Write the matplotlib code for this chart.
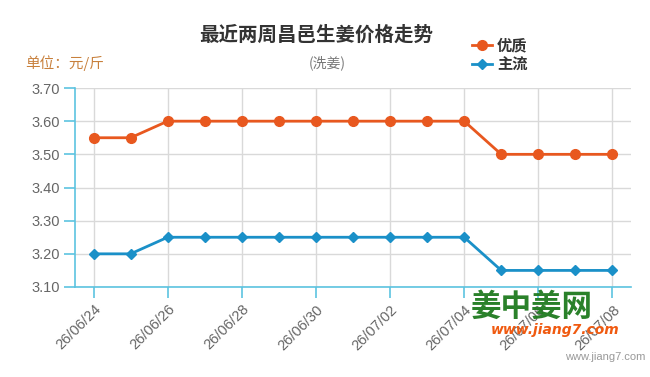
import matplotlib
matplotlib.use("Agg")
import matplotlib.pyplot as plt

plt.rcParams['font.family'] = ['Noto Sans CJK SC', 'DejaVu Sans']

dates = ["26/06/24", "26/06/25", "26/06/26", "26/06/27", "26/06/28", "26/06/29", "26/06/30",
         "26/07/01", "26/07/02", "26/07/03", "26/07/04", "26/07/05", "26/07/06", "26/07/07", "26/07/08"]
premium = [3.55, 3.55, 3.60, 3.60, 3.60, 3.60, 3.60, 3.60, 3.60, 3.60, 3.60, 3.50, 3.50, 3.50, 3.50]
mainstream = [3.20, 3.20, 3.25, 3.25, 3.25, 3.25, 3.25, 3.25, 3.25, 3.25, 3.25, 3.15, 3.15, 3.15, 3.15]
yticks = [3.10, 3.20, 3.30, 3.40, 3.50, 3.60, 3.70]

orange = "#e8581f"
blue = "#1a90c8"
axis_blue = "#5cc3e0"

fig = plt.figure(figsize=(6.5, 3.77), dpi=100)
ax = fig.add_axes([75/650, 1-287/377, (631-75)/650, (287-88)/377])

x = list(range(len(dates)))
l1, = ax.plot(x, premium, color=orange, lw=2, marker='o', ms=7, label="优质", zorder=3)
l2, = ax.plot(x, mainstream, color=blue, lw=2, marker='D', ms=5, label="主流", zorder=3)

ax.set_xlim(-0.5, 14.5)
ax.set_ylim(3.10, 3.70)
ax.set_yticks(yticks)
ax.set_yticklabels([f"{v:.2f}" for v in yticks], color="#666666", fontsize=10.5,
                   family=['Liberation Sans', 'DejaVu Sans'])
ax.set_xticks(x[::2])
ax.set_xticklabels(dates[::2], rotation=45, ha='right', va='top', rotation_mode='anchor',
                   color="#666666", fontsize=10.5, family=['Liberation Sans', 'DejaVu Sans'])

ax.grid(True, color="#d9d9d9", lw=1)
ax.set_axisbelow(True)
for s in ['top', 'right']:
    ax.spines[s].set_visible(False)
for s in ['left', 'bottom']:
    ax.spines[s].set_color(axis_blue)
    ax.spines[s].set_linewidth(1.2)
ax.tick_params(axis='both', color=axis_blue, width=1.2, length=8)
ax.tick_params(axis='y', pad=3)
ax.tick_params(axis='x', pad=3)

fig.text(316/650, 1-35/377, "最近两周昌邑生姜价格走势", ha='center', va='center',
         fontsize=14, fontweight='bold', color="#333333")
fig.text(327/650, 1-63/377, "(洗姜)", ha='center', va='center', fontsize=10, color="#777777")
fig.text(25/650, 1-63/377, "单位：元/斤", ha='left', va='center', fontsize=10.5, color="#c8803c")

leg = fig.legend(handles=[l1, l2], loc='upper left', bbox_to_anchor=(458/650, 1-24/377),
                 frameon=False, handlelength=1.3, handletextpad=0.35, labelspacing=0.2,
                 prop={'family': 'Noto Sans CJK SC', 'weight': 'bold', 'size': 11})
for t in leg.get_texts():
    t.set_color("#333333")

# watermark
fig.text(532/650, 1-307/377, "姜中姜网", ha='center', va='center', fontsize=22,
         fontweight='bold', color="#1e7a1e", alpha=0.95)
fig.text(555/650, 1-330/377, "www.jiang7.com", ha='center', va='center', fontsize=10,
         fontweight='bold', style='italic', color="#f05a10", family=['DejaVu Sans'])
fig.text(645/650, 1-357/377, "www.jiang7.com", ha='right', va='center', fontsize=8,
         color="#999999", family=['Liberation Sans', 'DejaVu Sans'])

fig.savefig("out.png", dpi=100)
